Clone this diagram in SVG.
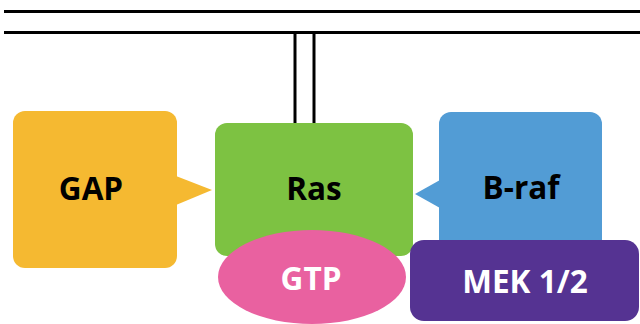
<svg xmlns="http://www.w3.org/2000/svg" width="640" height="324" viewBox="0 0 640 324">
  <style>
    .membrane { stroke: #000; stroke-width: 3; fill: none; }
    .label { font-family: "Open Sans", "Liberation Sans", sans-serif; font-weight: bold; font-size: 31.5px; text-anchor: middle; }
    .dark { fill: #000; }
    .light { fill: #fff; }
  </style>
  <g id="connectors">
    <!-- membrane bilayer -->
    <line class="membrane" x1="4" y1="11.5" x2="640" y2="11.5"/>
    <line class="membrane" x1="4" y1="32.5" x2="640" y2="32.5"/>
    <!-- membrane anchor of Ras -->
    <line class="membrane" x1="295" y1="32" x2="295" y2="124"/>
    <line class="membrane" x1="314" y1="32" x2="314" y2="124"/>
  </g>
  <g id="gap">
    <rect x="13" y="111" width="164" height="157" rx="12" fill="#F5B931"/>
    <polygon points="176,176 212,190 176,205" fill="#F5B931"/>
    <text class="label dark" x="91" y="200">GAP</text>
  </g>
  <g id="ras">
    <rect x="215" y="123" width="198" height="133" rx="12" fill="#7DC242"/>
    <text class="label dark" x="314" y="200">Ras</text>
  </g>
  <g id="gtp">
    <ellipse cx="312" cy="277" rx="94" ry="47" fill="#E961A0"/>
    <text class="label light" x="311" y="290">GTP</text>
  </g>
  <g id="braf">
    <rect x="439" y="112" width="163" height="150" rx="12" fill="#529CD5"/>
    <polygon points="440,180 415,194 440,208" fill="#529CD5"/>
    <text class="label dark" x="521" y="199">B-raf</text>
  </g>
  <g id="mek">
    <rect x="410" y="240" width="229" height="81" rx="14" fill="#553392"/>
    <text class="label light" x="525" y="293">MEK 1/2</text>
  </g>
</svg>
